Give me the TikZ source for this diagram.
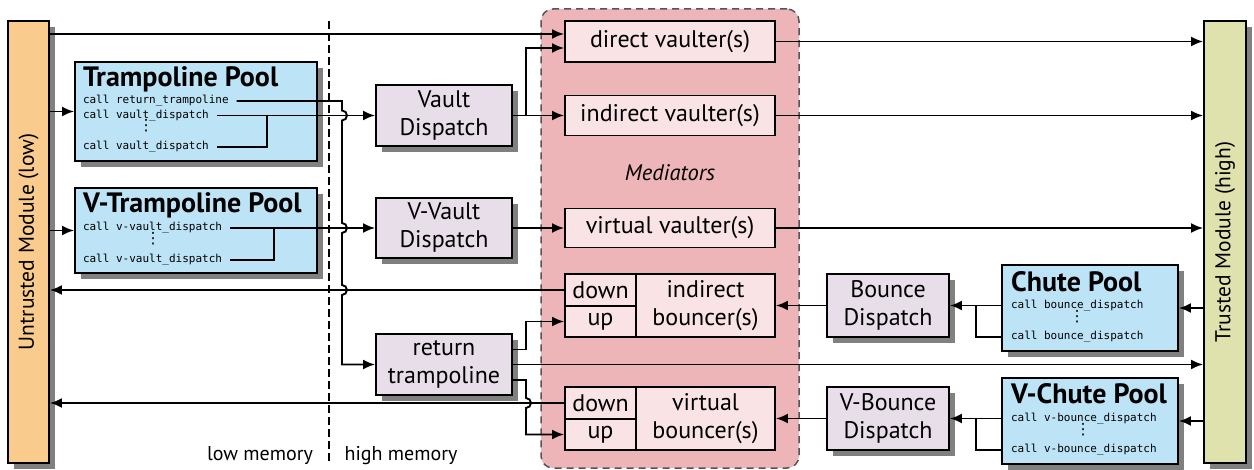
\documentclass[tikz,border=0pt]{standalone}
\usepackage{fontspec}
\setmainfont{PT Sans}
\setmonofont{DejaVu Sans Mono}
\newfontfamily\dotsfont{DejaVu Sans}
\usetikzlibrary{shadows,arrows.meta,calc}
\definecolor{untr}{HTML}{F9CB8C}
\definecolor{trus}{HTML}{DFE2AC}
\definecolor{poolc}{HTML}{BDE3F6}
\definecolor{dispc}{HTML}{E8DEEA}
\definecolor{medf}{HTML}{EEB5B9}
\definecolor{innerc}{HTML}{F9E3E5}
\definecolor{shadc}{HTML}{808080}
\definecolor{medb}{HTML}{555555}
\tikzset{
  shad/.style={drop shadow={shadow xshift=6pt, shadow yshift=-6pt, fill=shadc, opacity=1}},
  bx/.style={draw=black, line width=1.9pt, inner sep=0pt, align=center, font=\fontsize{24}{28}\selectfont},
  module/.style={bx, shad, minimum height=442pt},
  modtext/.style={rotate=90, font=\fontsize{21.5}{26}\selectfont},
  pool/.style={bx, shad, fill=poolc, minimum width=242pt},
  cpool/.style={bx, shad, fill=poolc, minimum width=176pt, minimum height=86pt},
  ptitle/.style={anchor=base west, inner sep=0pt, font=\fontsize{28}{30}\selectfont\bfseries},
  code/.style={anchor=west, inner sep=0pt, outer xsep=8pt, outer ysep=0pt, text height=8pt, text depth=2pt, font=\fontsize{11}{13}\selectfont\ttfamily},
  dts/.style={inner sep=0pt, text height=7pt, text depth=7pt, font=\fontsize{15.5}{16}\selectfont\dotsfont},
  disp/.style={bx, shad, fill=dispc, minimum width=136pt},
  disp2/.style={bx, shad, fill=dispc, minimum width=122pt, minimum height=63pt},
  innerbox/.style={bx, fill=innerc, minimum width=210pt},
  cell/.style={bx, fill=innerc, minimum width=71pt},
  btext/.style={align=center, inner sep=0pt, font=\fontsize{24}{28}\selectfont},
  medreg/.style={draw=medb, line width=1.5pt, dash pattern=on 7pt off 5pt, fill=medf, rounded corners=12pt, minimum width=258pt, minimum height=459pt, inner sep=0pt},
  medlbl/.style={font=\fontsize{22.5}{26}\selectfont\itshape, inner sep=0pt},
  memlbl/.style={font=\fontsize{20}{24}\selectfont, inner sep=0pt},
  conn/.style={line width=1.9pt},
  arr/.style={conn, -{Latex[length=12pt,width=10pt]}},
  sepline/.style={line width=1.5pt, dash pattern=on 8pt off 4pt},
}
\begin{document}
\begin{tikzpicture}[x=1pt,y=-1pt]
\useasboundingbox (0,0) rectangle (1254,470);
% mediator region
\node[medreg] (med) at (670,238.5) {};
\node[medlbl] (medl) at (670,173) {Mediators};
% memory separator
\coordinate (septop) at (329,21);
\coordinate (sepbot) at (329,464);
\draw[sepline] (septop) -- (sepbot);
\node[memlbl] (lowm) at (260,456) {low memory};
\node[memlbl] (highm) at (401,456) {high memory};
% modules
\node[module, fill=untr, minimum width=41pt, label={[modtext]center:Untrusted Module (low)}] (un) at (28.5,242) {};
\node[module, fill=trus, minimum width=42pt, label={[modtext]center:Trusted Module (high)}] (tr) at (1225,242) {};
% trampoline pool
\node[pool, minimum height=99pt] (tp) at (196,111.5) {};
\node[ptitle] (tpt) at (83,87) {Trampoline Pool};
\node[code] (t1) at (75,101) {call return\_trampoline};
\node[code] (t2) at (75,115.5) {call vault\_dispatch};
\node[dts] (t2d) at (146,131) {⋮};
\node[code] (t3) at (75,147) {call vault\_dispatch};
% v-trampoline pool
\node[pool, minimum height=85pt] (vp) at (196,230.5) {};
\node[ptitle] (vpt) at (83,213) {V-Trampoline Pool};
\node[code] (v1) at (75,228) {call v-vault\_dispatch};
\node[dts] (v1d) at (153,244) {⋮};
\node[code] (v2) at (75,260) {call v-vault\_dispatch};
% dispatch boxes
\node[disp, minimum height=61pt] (vd) at (444,115.5) {Vault\\Dispatch};
\node[disp, minimum height=60pt] (vvd) at (444,228) {V-Vault\\Dispatch};
\node[disp, minimum height=61pt] (rt) at (444,364.5) {return\\trampoline};
% mediators
\node[innerbox, minimum height=41pt] (dv) at (670,41.5) {direct vaulter(s)};
\node[innerbox, minimum height=40pt] (iv) at (670,115.5) {indirect vaulter(s)};
\node[innerbox, minimum height=39pt] (vv) at (670,228) {virtual vaulter(s)};
\node[innerbox, minimum height=63pt] (ib) at (670,305.5) {};
\node[cell, minimum height=32pt] (ibd) at (600.5,290) {down};
\node[cell, minimum height=31pt] (ibu) at (600.5,321.5) {up};
\node[btext] (ibt) at (705.5,305.5) {indirect\\bouncer(s)};
\node[innerbox, minimum height=63pt] (vb) at (670,418.5) {};
\node[cell, minimum height=32pt] (vbdn) at (600.5,403) {down};
\node[cell, minimum height=31pt] (vbup) at (600.5,434.5) {up};
\node[btext] (vbt) at (705.5,418.5) {virtual\\bouncer(s)};
% bounce dispatch
\node[disp2] (bdisp) at (888,305.5) {Bounce\\Dispatch};
\node[disp2] (vbdisp) at (888,418.5) {V-Bounce\\Dispatch};
% chute pools
\node[cpool] (cp) at (1090,308) {};
\node[ptitle] (cpt) at (1011,292) {Chute Pool};
\node[code] (c1) at (1003,305.5) {call bounce\_dispatch};
\node[dts] (c1d) at (1077,321.5) {⋮};
\node[code] (c2) at (1003,337) {call bounce\_dispatch};
\node[cpool] (vcp) at (1090,421) {};
\node[ptitle] (vcpt) at (1011,403) {V-Chute Pool};
\node[code] (w1) at (1003,418.5) {call v-bounce\_dispatch};
\node[dts] (w1d) at (1083,434.5) {⋮};
\node[code] (w2) at (1003,450) {call v-bounce\_dispatch};
% helper coordinates
\coordinate (jx) at (342,0);
\coordinate (mx) at (526,0);
\coordinate (tjx) at (267,0);
\coordinate (vjx) at (274,0);
\coordinate (cjx) at (976,0);
\coordinate (dvin1) at ($(dv.west)+(0,-7.5)$);
\coordinate (dvin2) at ($(dv.west)+(0,6.5)$);
\coordinate (rta) at ($(rt.east)+(0,-15)$);
\coordinate (rtb) at ($(rt.east)+(0,15.5)$);
% connectors left
\draw[arr] (un.east |- dvin1) -- (dvin1);
\draw[arr] (un.east |- tp.west) -- (tp.west);
\draw[arr] (un.east |- vp.west) -- (vp.west);
\draw[arr] (t2.east) -- (vd.west);
\draw[conn] (t3.east) -| (tjx |- t2.east);
\draw[arr] (v1.east) -- (vvd.west);
\draw[conn] (v2.east) -| (vjx |- v1.east);
\draw[arr] (t1.east) -- (t1.east -| jx)
  -- ($(jx |- vd.west)+(0,-5)$) arc[start angle=-90,end angle=90,radius=5]
  -- ($(jx |- vvd.west)+(0,-5)$) arc[start angle=-90,end angle=90,radius=5]
  -- ($(jx |- ibd.west)+(0,-5)$) arc[start angle=-90,end angle=90,radius=5]
  -- (jx |- rt.west) -- (rt.west);
\draw[arr] (vd.east) -- (iv.west);
\draw[arr] (vd.east) -- (mx |- vd.east) |- (dvin2);
\draw[arr] (vvd.east) -- (vv.west);
\draw[arr] (rta) -- (mx |- rta) |- (ibu.west);
\draw[arr] (rt.east) -- (rt.east -| tr.west);
\draw[arr] (rtb) -- (mx |- rtb) -- ($(mx |- vbdn.west)+(0,-5)$) arc[start angle=-90,end angle=90,radius=5] |- (vbup.west);
\draw[arr] (ibd.west) -- (ibd.west -| un.east);
\draw[arr] (vbdn.west) -- (vbdn.west -| un.east);
% connectors right
\draw[arr] (dv.east) -- (dv.east -| tr.west);
\draw[arr] (iv.east) -- (iv.east -| tr.west);
\draw[arr] (vv.east) -- (vv.east -| tr.west);
\draw[arr] (bdisp.west) -- (ib.east);
\draw[arr] (vbdisp.west) -- (vb.east);
\draw[arr] (cp.west |- c1.east) -- (bdisp.east |- c1.east);
\draw[conn] (cp.west |- c2.east) -| (cjx |- c1.east);
\draw[arr] (vcp.west |- w1.east) -- (vbdisp.east |- w1.east);
\draw[conn] (vcp.west |- w2.east) -| (cjx |- w1.east);
\draw[arr] (tr.west |- cp.east) -- (cp.east);
\draw[arr] (tr.west |- vcp.east) -- (vcp.east);
\end{tikzpicture}
\end{document}
